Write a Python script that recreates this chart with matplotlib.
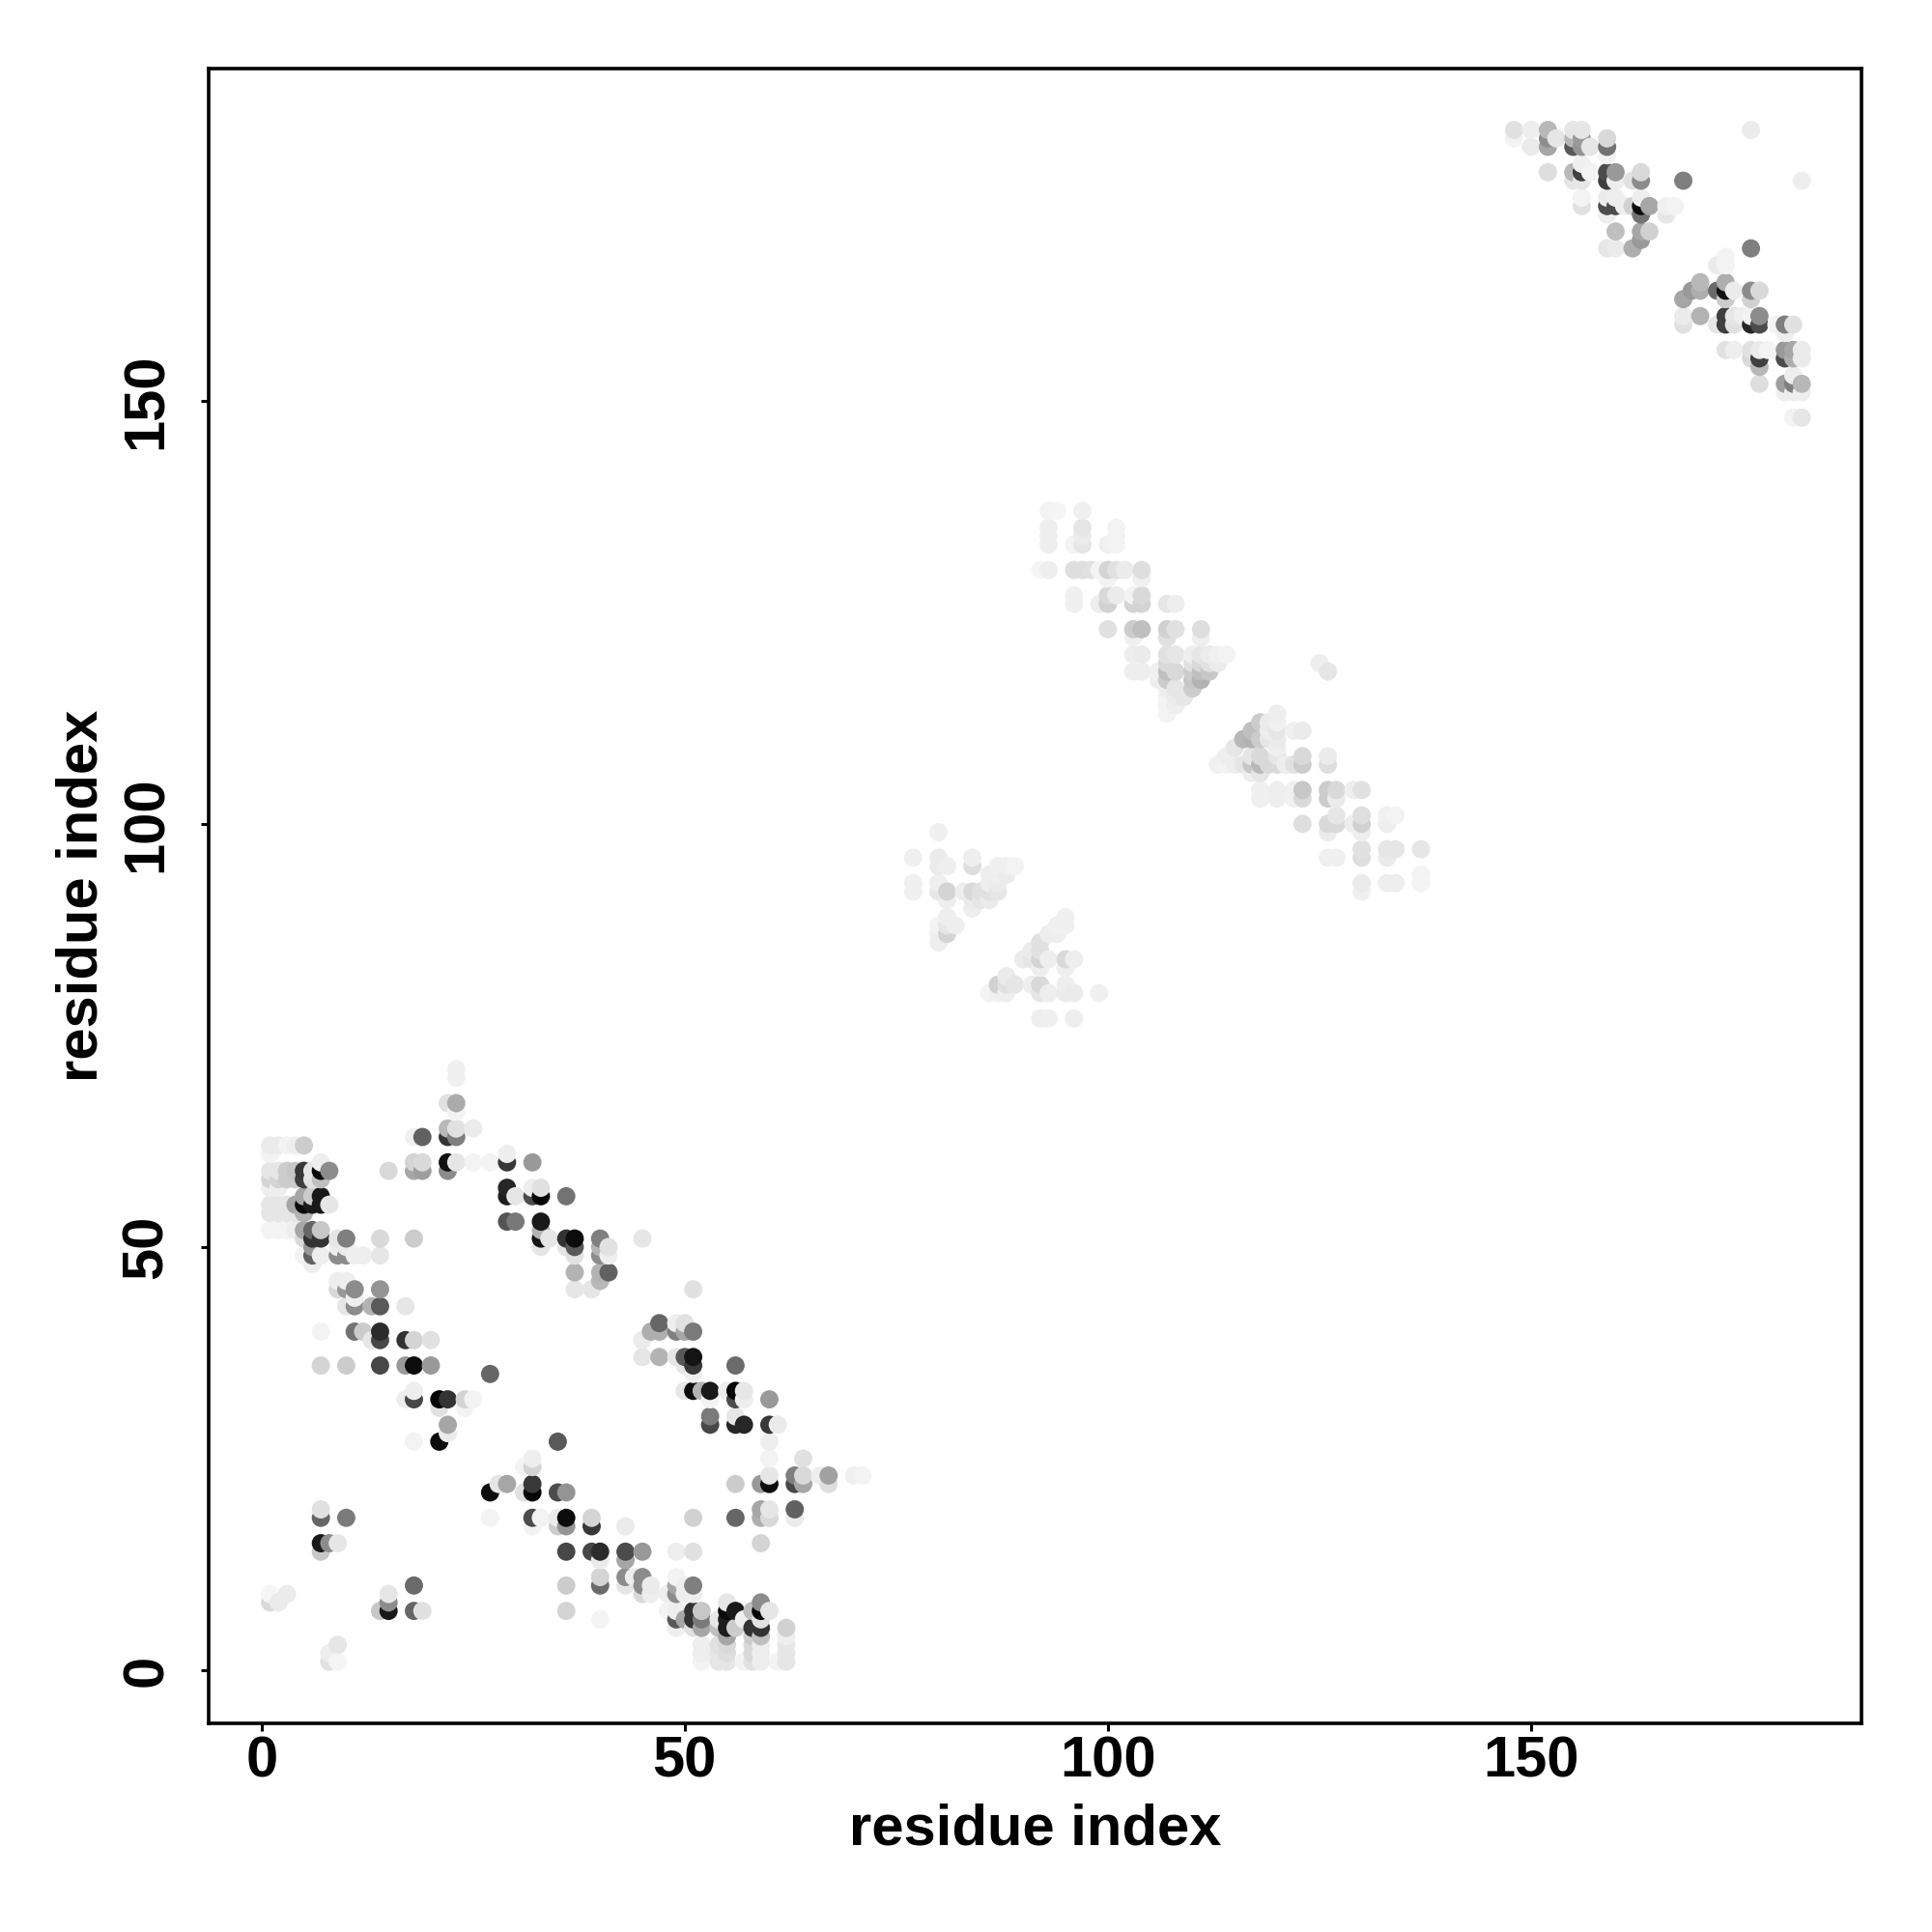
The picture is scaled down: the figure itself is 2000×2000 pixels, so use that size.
import numpy as np
import matplotlib
matplotlib.use('Agg')
import matplotlib.pyplot as plt

# (residue i, residue j, contact strength)
block_upper_left = [
    (23,71,.06),(23,70,.06),(22,67,.12),(23,67,.33),(23,66,.05),(22,64,.28),(22,63,.8),(23,63,.5),(23,64,.12),(25,64,.08),
    (19,63,.62),(18,63,.06),(1,62,.08),(2,62,.08),(3,62,.05),(4,62,.07),(5,62,.2),(1,61,.05),(7,60,.07),(22,60,.93),
    (23,60,.1),(25,60,.05),(27,60,.05),(29,61,.07),(29,60,.78),(32,60,.4),(18,60,.17),(19,60,.15),(18,59,.35),(19,59,.38),
    (15,59,.15),(22,59,.45),(1,59,.1),(2,59,.1),(3,59,.2),(4,59,.22),(5,59,.78),(6,59,.1),(7,59,.98),(8,59,.45),
    (5,58,.75),(6,58,.12),(7,58,.25),(1,58,.17),(2,58,.17),(3,58,.2),(4,58,.2),(1,57,.07),(2,57,.07),
    (7,56,.9),(5,56,.35),(6,56,.2),(8,55,.1),(7,55,.9),(6,55,.9),(5,55,.95),(4,55,.35),(1,55,.1),(2,55,.1),(3,55,.1),
    (1,54,.1),(2,54,.1),(3,54,.1),(4,54,.1),(5,54,.3),(1,52,.05),(2,52,.05),(3,52,.05),(4,52,.07),(5,52,.35),(6,52,.6),
    (7,52,.22),(6,51,.8),(7,51,.8),(5,51,.15),(9,51,.1),(10,51,.5),(14,51,.15),(18,51,.2),(6,50,.4),(9,50,.07),(10,50,.08),
    (9,49,.45),(10,49,.45),(11,49,.07),(12,49,.07),(14,49,.1),(6,49,.62),(7,49,.07),(5,49,.05),(6,48,.07),
    (9,46,.07),(10,46,.07),(9,45,.15),(10,45,.4),(11,45,.45),(14,45,.42),(11,44,.07),(10,43,.1),(11,43,.45),(13,43,.3),
    (14,43,.65),(17,43,.1),(7,40,.05),(11,40,.55),(12,40,.2),(14,40,.83),(14,39,.72),(13,39,.1),(17,39,.8),(18,39,.17),
    (20,39,.12),(7,36,.17),(10,36,.2),(14,36,.72),(17,36,.4),(18,36,.95),(20,36,.4),(27,35,.6),
]
block_upper_right = [
    (29,57,.85),(29,56,.88),(30,56,.1),(32,56,.7),(33,57,.12),(33,56,.98),(32,57,.07),(36,56,.55),(29,53,.67),(30,53,.53),
    (33,53,.9),(33,52,.3),(33,51,.92),(34,51,.1),(33,50,.1),(36,51,.8),(37,51,.95),(37,50,.65),(36,50,.1),(37,49,.12),
    (40,51,.5),(40,50,.3),(41,50,.12),(41,49,.07),(40,49,.45),(45,51,.1),(37,47,.3),(40,47,.3),(41,47,.62),(40,46,.28),
    (37,45,.1),(39,45,.1),(51,45,.12),(47,41,.6),(46,40,.32),(47,40,.32),(49,41,.07),(50,41,.12),(49,40,.5),(50,40,.35),
    (51,40,.52),(45,39,.08),(45,37,.1),(47,37,.3),(49,37,.1),(50,37,.65),(51,37,.92),(51,36,.78),(50,36,.1),(56,36,.58),
    (51,35,.07),(50,33,.1),(51,33,.95),(52,33,.3),(53,33,.9),(55,33,.07),(56,33,.98),(57,33,.1),(56,32,.7),(57,32,.07),
    (60,32,.4),(53,32,.05),(53,30,.52),(53,29,.72),(56,30,.1),(56,29,.85),(57,29,.85),(60,29,.78),(61,29,.08),
    (60,27,.07),(60,25,.05),(64,25,.12),(35,27,.65),
]
block_lower_left = [
    (18,33,.07),(18,32,.72),(17,32,.07),(21,32,.98),(22,32,.8),(24,32,.17),(25,32,.05),(21,31,.12),(24,31,.05),(22,29,.35),
    (22,28,.08),(21,27,.95),(18,27,.05),(32,25,.07),(32,24,.17),(31,24,.05),(28,22,.1),(29,22,.35),(32,22,.78),(27,21,.95),
    (31,21,.12),(32,21,.98),(35,21,.7),(36,21,.42),(7,19,.12),(7,18,.6),(10,18,.52),(27,18,.05),(32,18,.7),(33,18,.05),
    (32,17,.05),(35,18,.08),(36,18,.95),(35,17,.2),(36,17,.42),(7,15,.9),(8,15,.45),(9,15,.1),(7,14,.22),(36,14,.72),
    (36,10,.2),(36,7,.17),(18,10,.58),(15,9,.1),(15,8,.45),(15,7,.9),(14,7,.22),(18,7,.6),(19,7,.12),(1,9,.04),(1,8,.15),
    (2,8,.08),(3,9,.08),(9,3,.1),(8,2,.07),(8,1,.12),(9,1,.04),
]
block_lower_right = [
    (39,18,.17),(39,17,.78),(43,17,.08),(51,18,.18),(56,18,.6),(59,19,.35),(59,18,.32),(60,19,.1),(60,18,.15),(56,22,.2),
    (59,22,.4),(60,22,.95),(60,23,.1),(63,23,.5),(63,22,.72),(64,23,.15),(64,22,.35),(66,23,.07),(67,23,.37),(67,22,.13),
    (70,23,.06),(71,23,.05),(63,19,.62),(63,18,.08),(59,15,.17),(39,14,.72),(40,14,.83),(43,14,.7),(45,14,.4),(43,13,.35),
    (40,13,.08),(49,14,.07),(51,14,.12),(40,11,.17),(40,10,.58),(43,11,.45),(44,11,.07),(43,10,.1),(45,11,.45),(45,10,.45),
    (46,10,.08),(46,9,.07),(45,9,.15),(40,6,.05),(49,11,.05),(49,10,.35),(49,9,.45),(48,9,.07),(50,10,.07),(51,10,.5),
    (50,9,.07),(51,9,.07),(49,7,.07),(48,7,.05),(49,6,.65),(50,6,.35),(51,7,.8),(51,6,.8),(52,7,.22),(52,6,.52),(52,5,.35),
    (51,5,.12),(49,5,.07),(55,8,.1),(55,7,.95),(56,7,.9),(55,6,.88),(55,5,.88),(54,6,.1),(56,5,.2),(55,4,.35),(54,5,.25),
    (59,8,.45),(59,7,.97),(60,7,.1),(58,7,.25),(58,5,.8),(59,5,.8),(59,6,.12),(57,6,.07),(58,4,.2),(59,4,.25),(62,5,.18),
    (62,4,.07),(52,3,.07),(52,2,.07),(52,1,.05),(54,3,.12),(54,2,.1),(54,1,.1),(55,3,.15),(55,2,.13),(55,1,.1),(57,1,.05),
    (58,3,.15),(58,2,.15),(58,1,.12),(59,3,.07),(59,2,.07),(59,1,.07),(61,1,.05),(62,3,.1),(62,2,.1),(62,1,.1),
]
block_mid_a = [
    (80,99,.06),(77,96,.06),(80,96,.08),(84,96,.07),(80,95,.08),(81,95,.07),(84,95,.13),(77,93,.06),(77,92,.06),(80,93,.07),
    (80,92,.1),(81,92,.17),(83,92,.07),(84,92,.15),(85,92,.12),(86,92,.12),(87,92,.1),(81,91,.07),(84,91,.08),(85,91,.1),
    (84,90,.07),(86,91,.08),(87,95,.06),(88,95,.06),(89,95,.05),(86,94,.07),(87,94,.07),(88,94,.08),(86,93,.07),(87,93,.08),
    (81,89,.07),(82,88,.07),(80,88,.05),(81,88,.1),(81,87,.17),(80,87,.07),(80,86,.07),
]
block_mid_b = [
    (95,89,.06),(95,88,.06),(94,88,.06),(94,87,.07),(93,87,.07),(92,86,.12),(92,85,.12),(91,85,.08),(92,84,.17),(93,84,.07),
    (90,84,.08),(91,84,.1),(95,84,.15),(96,84,.07),(92,83,.07),(95,83,.07),(88,82,.08),(87,81,.18),(88,81,.12),(89,81,.1),
    (86,80,.05),(87,80,.06),(88,80,.07),(91,81,.07),(92,81,.15),(92,80,.1),(93,80,.07),(95,81,.07),(95,80,.08),(96,80,.08),
    (99,80,.06),(92,77,.07),(93,77,.06),(96,77,.07),
]
block_mid_c = [
    (93,137,.05),(94,137,.04),(97,137,.06),(93,135,.07),(93,134,.07),(93,133,.07),(97,135,.1),(97,134,.08),(97,133,.1),
    (96,133,.05),(100,133,.06),(101,135,.05),(101,134,.05),(101,133,.05),(92,130,.04),(93,130,.07),(96,130,.13),(97,130,.13),
    (98,130,.12),(99,130,.05),(100,130,.17),(101,130,.12),(102,130,.08),(104,130,.13),(104,129,.06),(100,129,.05),
    (96,127,.06),(96,126,.06),(100,127,.15),(100,126,.18),(99,126,.07),(101,127,.08),(103,126,.17),(104,127,.15),(104,126,.17),
    (103,127,.05),(107,126,.1),(108,126,.07),(100,123,.12),(103,123,.2),(104,123,.25),(107,123,.18),(108,123,.12),(111,123,.13),
    (111,122,.07),(107,122,.12),(103,122,.06),(103,120,.07),(104,120,.08),(103,118,.07),(104,118,.07),(106,118,.06),(107,120,.12),
    (107,119,.15),(108,120,.1),(107,118,.25),(106,117,.07),(107,117,.2),(107,116,.07),(107,115,.05),(107,114,.05),(107,113,.05),
    (108,118,.15),(110,120,.07),(111,120,.1),(112,120,.08),(113,120,.06),(114,120,.05),(110,119,.12),(111,119,.15),(112,119,.12),
    (113,119,.08),(110,118,.2),(111,118,.25),(112,118,.22),(110,117,.22),(111,117,.3),(110,116,.2),(109,115,.1),(108,114,.07),
    (108,115,.08),(108,116,.1),
]
block_mid_d = [
    (125,119,.07),(126,118,.1),(120,113,.07),(119,112,.08),(120,112,.06),(118,112,.2),(117,111,.25),(116,110,.28),(117,110,.3),
    (118,110,.2),(115,109,.1),(114,108,.07),(113,107,.06),(114,107,.05),(115,107,.07),(116,107,.1),(117,107,.22),(118,107,.28),
    (118,108,.15),(119,107,.15),(120,107,.15),(117,108,.1),(119,110,.1),(120,110,.08),(119,111,.07),(120,111,.1),(120,109,.07),
    (122,111,.06),(123,111,.08),(120,108,.1),(123,108,.15),(123,107,.2),(122,107,.12),(121,107,.07),(126,108,.08),(126,107,.13),
    (117,106,.07),(118,106,.1),(118,104,.06),(118,103,.06),(120,104,.07),(120,103,.07),(122,104,.06),(122,103,.06),(123,104,.22),
    (123,103,.15),(126,104,.2),(126,103,.2),(127,104,.15),(127,103,.08),(129,104,.07),(130,104,.12),(123,100,.13),(126,100,.15),
    (127,100,.15),(127,101,.1),(129,100,.07),(130,101,.13),(130,100,.18),(130,99,.07),(126,99,.08),(133,101,.06),(134,101,.05),
    (133,100,.07),(126,96,.06),(127,96,.06),(130,97,.12),(130,96,.13),(133,97,.1),(134,97,.1),(133,96,.08),(137,97,.1),
    (130,93,.08),(130,92,.06),(133,93,.07),(134,93,.07),(137,94,.05),(137,93,.05),
]
block_top_a = [
    (148,182,.12),(148,181,.05),(150,182,.07),(150,180,.08),(152,182,.28),(152,181,.45),(152,180,.35),(153,181,.1),(155,182,.1),
    (156,182,.1),(155,181,.28),(156,181,.4),(155,180,.65),(156,180,.42),(157,180,.1),(159,181,.15),(159,180,.55),(159,179,.05),
    (152,177,.13),(155,177,.28),(156,177,.75),(155,176,.1),(156,176,.1),(156,178,.06),(157,177,.05),(159,177,.7),(159,176,.75),
    (160,177,.4),(160,176,.07),(162,176,.12),(163,177,.15),(163,176,.45),(168,176,.5),(156,174,.05),(156,173,.12),(159,174,.08),
    (160,174,.07),(159,173,.7),(160,173,.7),(161,173,.07),(159,172,.07),(162,173,.18),(163,173,.95),(163,174,.07),(164,173,.35),
    (163,172,.55),(166,173,.06),(167,173,.05),(166,172,.1),(160,170,.25),(163,170,.35),(164,170,.18),(163,169,.4),(162,168,.32),
    (159,168,.1),(160,168,.08),(176,182,.08),(182,176,.07),
]
block_top_b = [
    (176,168,.5),(173,167,.05),(173,166,.05),(172,166,.08),(170,164,.28),(169,163,.4),(170,163,.32),(168,162,.35),(173,164,.32),
    (172,163,.58),(173,163,.92),(174,163,.08),(173,162,.2),(176,163,.45),(177,163,.15),(176,162,.18),(168,160,.08),(168,159,.12),
    (170,160,.3),(172,159,.1),(173,160,.75),(173,159,.75),(174,160,.1),(175,160,.07),(174,159,.12),(177,160,.45),(176,159,.85),
    (177,159,.7),(176,160,.05),(180,159,.5),(181,159,.12),(179,159,.05),(180,158,.07),(173,156,.12),(174,156,.07),(176,156,.12),
    (176,155,.15),(177,156,.08),(177,155,.75),(178,156,.05),(177,154,.28),(180,156,.4),(180,155,.7),(181,156,.35),(181,155,.32),
    (182,156,.08),(182,155,.08),(177,152,.13),(180,152,.38),(181,153,.07),(181,152,.5),(182,152,.28),(180,151,.07),(181,151,.07),
    (182,151,.07),(181,148,.05),(182,148,.1),
]

tick_values = [0, 50, 100, 150]
axis_label = 'residue index'

all_blocks = [block_upper_left, block_upper_right, block_lower_left, block_lower_right,
              block_mid_a, block_mid_b, block_mid_c, block_mid_d, block_top_a, block_top_b]
contacts = np.array([row for block in all_blocks for row in block])

# points were drawn by i then j, so later ones sit on top
order = np.lexsort((contacts[:, 1], contacts[:, 0]))
contacts = contacts[order]

plt.rcParams['font.family'] = ['Liberation Sans', 'DejaVu Sans']
plt.rcParams['font.weight'] = 'bold'

fig = plt.figure(figsize=(20, 20), dpi=100)
ax = fig.add_axes([0.1079, 0.1082, 0.8557, 0.8561])
ax.scatter(contacts[:, 0], contacts[:, 1], c=contacts[:, 2], cmap='gray_r', vmin=0, vmax=1,
           s=185, linewidths=0)

ax.set_xlim(-6.28, 189.08)
ax.set_ylim(-6.24, 189.2)
ax.set_xticks(tick_values)
ax.set_yticks(tick_values)
ax.tick_params(axis='both', length=6, width=2.2, labelsize=43, pad=3)
ax.tick_params(axis='y', pad=20)
for label in ax.get_yticklabels():
    label.set_rotation(90)
    label.set_verticalalignment('center')
for spine in ax.spines.values():
    spine.set_linewidth(2.6)

ax.set_xlabel(axis_label, fontsize=43, fontweight='bold', labelpad=11)
ax.set_ylabel(axis_label, fontsize=43, fontweight='bold', labelpad=9)

plt.savefig('out.png', dpi=100)
